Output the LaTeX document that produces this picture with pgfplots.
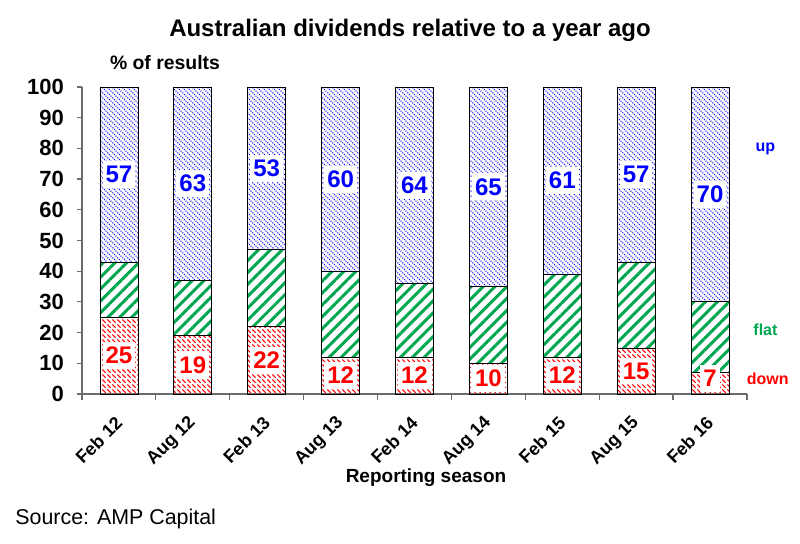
\documentclass[border=0pt]{standalone}
\usepackage{pgfplots}
\pgfplotsset{compat=1.18}
\usepackage{pgfplotstable}
\usepackage{fontspec}
\setmainfont{Liberation Sans}
\usetikzlibrary{patterns,patterns.meta}

\definecolor{cred}{RGB}{255,0,0}
\definecolor{cblue}{RGB}{0,0,255}
\definecolor{cgreen}{RGB}{0,166,80}

% dotted "\" lines
\pgfdeclarepatternformonly{updots}{\pgfqpoint{0pt}{0pt}}{\pgfqpoint{2.7pt}{2.7pt}}{\pgfqpoint{2.7pt}{2.7pt}}{%
  \pgfpathrectangle{\pgfqpoint{0.1pt}{2.0pt}}{\pgfqpoint{0.6pt}{0.6pt}}%
  \pgfpathrectangle{\pgfqpoint{1.0pt}{1.1pt}}{\pgfqpoint{0.6pt}{0.6pt}}%
  \pgfpathrectangle{\pgfqpoint{1.9pt}{0.2pt}}{\pgfqpoint{0.6pt}{0.6pt}}%
  \pgfusepath{fill}}
% dashed "\" lines
\pgfdeclarepatternformonly{downdash}{\pgfqpoint{0pt}{0pt}}{\pgfqpoint{2.7pt}{2.7pt}}{\pgfqpoint{2.7pt}{2.7pt}}{%
  \pgfsetlinewidth{0.6pt}%
  \pgfpathmoveto{\pgfqpoint{0.2pt}{2.5pt}}%
  \pgfpathlineto{\pgfqpoint{2.0pt}{0.7pt}}%
  \pgfusepath{stroke}}

\pgfplotstableread{
x down flat up
0 25 18 57
1 19 18 63
2 22 25 53
3 12 28 60
4 12 24 64
5 10 25 65
6 12 27 61
7 15 28 57
8 7 23 70
}\datatab

\pgfplotstableread{
x y lab
0 12.5 25
1 9.5 19
2 11 22
3 6 12
4 6 12
5 5 10
6 6 12
7 7.5 15
8 5 7
}\downlab

\pgfplotstableread{
x y lab
0 71.5 57
1 68.5 63
2 73.5 53
3 70 60
4 68 64
5 67.5 65
6 69.5 61
7 71.5 57
8 65 70
}\uplab

\begin{document}
\begin{tikzpicture}
\path[use as bounding box] (0,0) rectangle (400pt,272pt);
\begin{axis}[
  at={(41pt,75pt)}, anchor=south west,
  scale only axis, width=332.5pt, height=153.5pt,
  ybar stacked, bar width=19pt,
  xmin=-0.5, xmax=8.5, ymin=0, ymax=100,
  axis x line*=bottom, axis y line*=left,
  axis line style={draw=gray!85!black, line width=0.6pt},
  tick align=outside,
  ytick={0,10,...,100},
  major tick length=2.5pt,
  y tick style={draw=gray!85!black, line width=0.6pt},
  xtick={0,...,8},
  xticklabels={Feb 12,Aug 12,Feb 13,Aug 13,Feb 14,Aug 14,Feb 15,Aug 15,Feb 16},
  major x tick style={draw=none},
  extra x ticks={-0.5,0.5,1.5,2.5,3.5,4.5,5.5,6.5,7.5,8.5},
  extra x tick labels={},
  extra x tick style={major x tick style={draw=gray!85!black, line width=0.6pt}, major tick length=3pt},
  /pgf/number format/assume math mode=true,
  yticklabel style={font=\bfseries\fontsize{11}{13}\selectfont, xshift=-3pt},
  xticklabel shift=8pt,
  xticklabel style={font=\bfseries\fontsize{9}{11}\selectfont, xshift=2.5pt, rotate=45, anchor=east},
  clip=false,
]
\addplot[draw=black, line width=0.4pt, pattern=downdash, pattern color=cred] table[x=x,y=down]{\datatab};
\addplot[draw=black, line width=0.4pt, pattern={Lines[angle=45, distance=4.2pt, line width=1.5pt]}, pattern color=cgreen] table[x=x,y=flat]{\datatab};
\addplot[draw=black, line width=0.4pt, pattern=updots, pattern color=cblue] table[x=x,y=up]{\datatab};
\node[text=cblue, font=\bfseries\fontsize{8}{10}\selectfont] at (axis cs:8.75,80) {up};
\node[text=cgreen, font=\bfseries\fontsize{8}{10}\selectfont] at (axis cs:8.75,21) {flat};
\node[text=cred, font=\bfseries\fontsize{8}{10}\selectfont] at (axis cs:8.78,5) {down};
\end{axis}
\begin{axis}[
  at={(41pt,75pt)}, anchor=south west,
  scale only axis, width=332.5pt, height=153.5pt,
  xmin=-0.5, xmax=8.5, ymin=0, ymax=100,
  hide axis, clip=false,
]
\addplot[draw=none, mark=none, nodes near coords, point meta=explicit symbolic,
  nodes near coords align=center,
  every node near coord/.style={anchor=center, fill=white, inner xsep=1.5pt, inner ysep=2.5pt, text=cred, font=\bfseries\fontsize{12}{14}\selectfont}]
  table[x=x,y=y,meta=lab]{\downlab};
\addplot[draw=none, mark=none, nodes near coords, point meta=explicit symbolic,
  nodes near coords align=center,
  every node near coord/.style={anchor=center, fill=white, inner xsep=1.5pt, inner ysep=2.5pt, text=cblue, font=\bfseries\fontsize{12}{14}\selectfont}]
  table[x=x,y=y,meta=lab]{\uplab};
\end{axis}
\node[font=\bfseries\fontsize{12}{14}\selectfont] at (205pt,257pt) {Australian dividends relative to a year ago};
\node[font=\bfseries\fontsize{9.7}{12}\selectfont] at (82.5pt,240.5pt) {\% of results};
\node[font=\bfseries\fontsize{9.5}{12}\selectfont] at (213pt,33pt) {Reporting season};
\node[font=\fontsize{10.7}{13}\selectfont, anchor=west, inner sep=0pt] at (7.5pt,12.5pt) {Source: AMP Capital};
\end{tikzpicture}
\end{document}
